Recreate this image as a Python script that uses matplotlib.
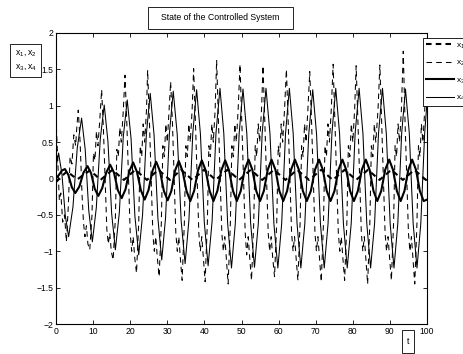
import matplotlib
matplotlib.use("Agg")
import matplotlib.pyplot as plt
from matplotlib.patches import Rectangle

plt.rcParams['font.family'] = ['Liberation Sans', 'DejaVu Sans']
plt.rcParams['lines.scale_dashes'] = False

# ---------------- data ----------------
x1_t = [0, 1.5, 3.0, 4.4, 5.8, 7.45, 9.1, 10.55, 12.0, 13.6, 15.2, 16.75, 18.3, 19.85, 21.4,
        22.95, 24.5, 26.05, 27.6, 29.15, 30.7, 32.2, 33.7, 35.25, 36.8, 38.35, 39.9, 41.5,
        43.05, 44.6, 46.2, 47.8, 49.35, 50.9, 52.5, 54.05, 55.6, 57.15, 58.7, 60.3, 61.85,
        63.4, 65.0, 66.6, 68.2, 69.85, 71.5, 73.05, 74.6, 76.2, 77.8, 79.35, 80.9, 82.5, 84.1,
        85.65, 87.2, 88.8, 90.4, 91.95, 93.5, 95.05, 96.6, 98.15, 99.7, 100]
x1_y = [-0.05, 0.03, 0.10, 0.04, -0.01, 0.05, 0.11, 0.05, -0.02, 0.05, 0.12, 0.05, -0.02,
        0.05, 0.12, 0.05, -0.02, 0.05, 0.12, 0.05, -0.02, 0.05, 0.12, 0.05, -0.02, 0.05, 0.12,
        0.05, -0.02, 0.05, 0.12, 0.05, -0.02, 0.05, 0.12, 0.05, -0.02, 0.05, 0.12, 0.05, -0.02,
        0.05, 0.12, 0.05, -0.02, 0.05, 0.12, 0.05, -0.02, 0.05, 0.12, 0.05, -0.02, 0.05, 0.12,
        0.05, -0.02, 0.05, 0.12, 0.05, -0.02, 0.05, 0.12, 0.05, -0.02, -0.01]

x2_t = [0, 0.5, 0.9, 1.3, 1.8, 2.3, 2.8, 3.3, 3.8, 4.3, 4.8, 5.3, 5.6,
        6.0, 6.5, 7.0, 7.4, 7.8, 8.2, 8.6, 9.1, 9.7, 10.1, 10.5, 10.9, 11.3, 11.8,
        12.3, 12.8, 13.3, 13.7, 14.1, 14.5, 14.9, 15.4, 16.0, 16.4, 16.8, 17.2, 17.6, 18.1,
        18.6, 19.1, 19.6, 20.0, 20.4, 20.8, 21.2, 21.7, 22.3, 22.7, 23.1, 23.5, 23.9, 24.4,
        24.7, 25.2, 25.7, 26.1, 26.5, 26.9, 27.3, 27.8, 28.4, 28.8, 29.2, 29.6, 30.0, 30.5,
        30.9, 31.4, 31.9, 32.3, 32.7, 33.1, 33.5, 34.0, 34.6, 35.0, 35.4, 35.8, 36.2, 36.7,
        37.1, 37.6, 38.1, 38.5, 38.9, 39.3, 39.7, 40.2, 40.8, 41.2, 41.6, 42.0, 42.4, 42.9,
        43.3, 43.8, 44.3, 44.7, 45.1, 45.5, 45.9, 46.4, 47.0, 47.4, 47.8, 48.2, 48.6, 49.1,
        49.6, 50.1, 50.6, 51.0, 51.4, 51.8, 52.2, 52.7, 53.3, 53.7, 54.1, 54.5, 54.9, 55.4,
        55.8, 56.3, 56.8, 57.2, 57.6, 58.0, 58.4, 58.9, 59.5, 59.9, 60.3, 60.7, 61.1, 61.6,
        62.1, 62.6, 63.1, 63.5, 63.9, 64.3, 64.7, 65.2, 65.8, 66.2, 66.6, 67.0, 67.4, 67.9,
        68.4, 68.9, 69.4, 69.8, 70.2, 70.6, 71.0, 71.5, 72.1, 72.5, 72.9, 73.3, 73.7, 74.2,
        74.7, 75.2, 75.7, 76.1, 76.5, 76.9, 77.3, 77.8, 78.4, 78.8, 79.2, 79.6, 80.0, 80.5,
        80.9, 81.4, 81.9, 82.3, 82.7, 83.1, 83.5, 84.0, 84.6, 85.0, 85.4, 85.8, 86.2, 86.8,
        87.3, 87.8, 88.3, 88.7, 89.1, 89.5, 89.9, 90.4, 91.0, 91.4, 91.8, 92.2, 92.6, 93.1,
        93.6, 94.1, 94.6, 95.0, 95.4, 95.8, 96.2, 96.7, 97.3, 97.7, 98.1, 98.5, 98.9, 99.4,
        100.0]
x2_y = [0.85, 0.2, -0.3, -0.2, -0.6, -0.5, -0.87, -0.4, 0.3, 0.2, 0.6, 0.45, 0.7,
        0.94, 0.5, -0.2, -0.6, -0.8, -0.65, -0.9, -0.98, -0.5, 0.35, 0.25, 0.65, 0.45, 0.8,
        1.22, 0.65, -0.1, -0.7, -0.9, -0.75, -1.0, -1.12, -0.55, 0.4, 0.3, 0.7, 0.5, 0.9,
        1.42, 0.75, -0.1, -0.75, -1.0, -0.8, -1.08, -1.30, -0.6, 0.45, 0.3, 0.75, 0.5, 0.95,
        1.49, 0.75, -0.1, -0.75, -1.0, -0.8, -1.08, -1.35, -0.6, 0.45, 0.3, 0.75, 0.5, 0.95,
        1.33, 0.75, -0.1, -0.75, -1.0, -0.8, -1.08, -1.40, -0.6, 0.45, 0.3, 0.75, 0.5, 0.95,
        1.51, 0.75, -0.1, -0.75, -1.0, -0.8, -1.08, -1.42, -0.6, 0.45, 0.3, 0.75, 0.5, 0.95,
        1.63, 0.75, -0.1, -0.75, -1.0, -0.8, -1.08, -1.45, -0.6, 0.45, 0.3, 0.75, 0.5, 0.95,
        1.57, 0.75, -0.1, -0.75, -1.05, -0.8, -1.08, -1.40, -0.6, 0.45, 0.3, 0.75, 0.5, 0.95,
        1.55, 0.75, -0.1, -0.75, -1.0, -0.8, -1.08, -1.35, -0.6, 0.45, 0.3, 0.75, 0.5, 0.95,
        1.50, 0.75, -0.1, -0.75, -1.0, -0.8, -1.08, -1.40, -0.6, 0.45, 0.3, 0.75, 0.5, 0.95,
        1.47, 0.75, -0.1, -0.75, -1.0, -0.8, -1.08, -1.42, -0.6, 0.45, 0.3, 0.75, 0.5, 0.95,
        1.57, 0.75, -0.1, -0.75, -1.0, -0.8, -1.08, -1.40, -0.6, 0.45, 0.3, 0.75, 0.5, 0.95,
        1.55, 0.75, -0.1, -0.75, -1.0, -0.8, -1.08, -1.45, -0.6, 0.45, 0.3, 0.75, 0.5, 0.95,
        1.56, 0.75, -0.1, -0.75, -1.0, -0.8, -1.08, -1.40, -0.6, 0.45, 0.3, 0.75, 0.5, 0.95,
        1.75, 0.75, -0.1, -0.75, -1.0, -0.8, -1.08, -1.45, -0.6, 0.45, 0.3, 0.75, 0.5, 0.95,
        1.5]

x3_t = [0, 0.8, 1.6, 2.4, 3.33, 4.27, 5.2, 6.3, 7.4, 8.5, 9.47, 10.43, 11.4, 12.47, 13.53,
        14.6, 15.63, 16.67, 17.7, 18.73, 19.77, 20.8, 21.83, 22.87, 23.9, 24.93, 25.97, 27.0,
        28.03, 29.07, 30.1, 31.1, 32.1, 33.1, 34.13, 35.17, 36.2, 37.23, 38.27, 39.3, 40.35,
        41.4, 42.45, 43.5, 44.55, 45.6, 46.65, 47.7, 48.75, 49.8, 50.85, 51.9, 52.93, 53.97,
        55.0, 56.03, 57.07, 58.1, 59.15, 60.2, 61.25, 62.3, 63.35, 64.4, 65.47, 66.53, 67.6,
        68.7, 69.8, 70.9, 71.93, 72.97, 74.0, 75.07, 76.13, 77.2, 78.23, 79.27, 80.3, 81.37,
        82.43, 83.5, 84.53, 85.57, 86.6, 87.67, 88.73, 89.8, 90.83, 91.87, 92.9, 93.93, 94.97,
        96.0, 97.03, 98.07, 99.1, 100]
x3_y = [0.0, 0.05, 0.11, 0.13, 0.05, -0.12, -0.20, -0.11, 0.08, 0.17, 0.07, -0.14, -0.24,
        -0.13, 0.08, 0.19, 0.08, -0.16, -0.27, -0.15, 0.10, 0.22, 0.09, -0.16, -0.29, -0.16,
        0.10, 0.23, 0.10, -0.17, -0.30, -0.17, 0.11, 0.24, 0.10, -0.17, -0.31, -0.17, 0.11,
        0.25, 0.11, -0.17, -0.31, -0.17, 0.11, 0.25, 0.11, -0.17, -0.31, -0.17, 0.12, 0.26,
        0.12, -0.17, -0.31, -0.17, 0.12, 0.26, 0.12, -0.17, -0.31, -0.17, 0.12, 0.26, 0.12,
        -0.17, -0.31, -0.17, 0.12, 0.26, 0.12, -0.17, -0.31, -0.17, 0.12, 0.26, 0.12, -0.17,
        -0.31, -0.17, 0.12, 0.26, 0.12, -0.17, -0.31, -0.17, 0.12, 0.26, 0.12, -0.17, -0.31,
        -0.17, 0.12, 0.26, 0.12, -0.17, -0.31, -0.29]

x4_t = [0, 0.7,
        1.6, 2.5, 3.4, 4.57, 5.73, 6.9, 7.87, 8.83, 9.8, 10.87, 11.93, 13.0,
        14.0, 15.0, 16.0, 17.07, 18.13, 19.2, 20.23, 21.27, 22.3, 23.33, 24.37, 25.4,
        26.43, 27.47, 28.5, 29.53, 30.57, 31.6, 32.67, 33.73, 34.8, 35.83, 36.87, 37.9,
        38.93, 39.97, 41.0, 42.07, 43.13, 44.2, 45.23, 46.27, 47.3, 48.33, 49.37, 50.4,
        51.43, 52.47, 53.5, 54.53, 55.57, 56.6, 57.67, 58.73, 59.8, 60.83, 61.87, 62.9,
        63.93, 64.97, 66.0, 67.07, 68.13, 69.2, 70.23, 71.27, 72.3, 73.33, 74.37, 75.4,
        76.43, 77.47, 78.5, 79.57, 80.63, 81.7, 82.73, 83.77, 84.8, 85.87, 86.93, 88.0,
        89.03, 90.07, 91.1, 92.13, 93.17, 94.2, 95.23, 96.27, 97.3, 98.33, 99.37, 100]
x4_y = [0.15, 0.35,
        0.06, -0.51, -0.80, -0.39, 0.42, 0.83, 0.40, -0.44, -0.87, -0.40, 0.54, 1.01,
        0.51, -0.48, -0.98, -0.47, 0.57, 1.08, 0.55, -0.52, -1.05, -0.50, 0.62, 1.17,
        0.60, -0.55, -1.12, -0.54, 0.62, 1.20, 0.61, -0.58, -1.17, -0.57, 0.62, 1.22,
        0.61, -0.60, -1.20, -0.59, 0.63, 1.24, 0.62, -0.62, -1.23, -0.62, 0.62, 1.23,
        0.62, -0.62, -1.22, -0.62, 0.62, 1.24, 0.62, -0.62, -1.23, -0.62, 0.62, 1.24,
        0.62, -0.62, -1.23, -0.62, 0.61, 1.22, 0.61, -0.62, -1.23, -0.62, 0.62, 1.24,
        0.62, -0.62, -1.23, -0.62, 0.62, 1.24, 0.62, -0.62, -1.23, -0.62, 0.62, 1.24,
        0.62, -0.62, -1.23, -0.62, 0.62, 1.23, 0.62, -0.62, -1.23, -0.62, 0.62, 1.05]

series_labels = [r'$\mathregular{x_1}$', r'$\mathregular{x_2}$',
                 r'$\mathregular{x_3}$', r'$\mathregular{x_4}$']
x_ticks = [0, 10, 20, 30, 40, 50, 60, 70, 80, 90, 100]
x_tick_labels = ['0', '10', '20', '30', '40', '50', '60', '70', '80', '90', '100']
y_ticks = [-2, -1.5, -1, -0.5, 0, 0.5, 1, 1.5, 2]
y_tick_labels = ['\u22122', '\u22121.5', '\u22121', '\u22120.5', '0', '0.5', '1', '1.5', '2']
title_text = 'State of the Controlled System'
ylabel_lines = [r'$\mathregular{x_1,x_2}$', r'$\mathregular{x_3,x_4}$']
xlabel_text = 't'

# ---------------- figure ----------------
W, H = 463, 354
fig = plt.figure(figsize=(W / 100, H / 100), dpi=100)
ax = fig.add_axes([56 / W, 1 - 324 / H, (427 - 56) / W, (324 - 33) / H])

thick, thin = 1.5, 0.75
l1, = ax.plot(x1_t, x1_y, color='black', lw=thick, ls=(0, (4.0, 3.0)))
l2, = ax.plot(x2_t, x2_y, color='black', lw=thin, ls=(0, (4.0, 3.0)))
l3, = ax.plot(x3_t, x3_y, color='black', lw=thick, ls='-')
l4, = ax.plot(x4_t, x4_y, color='black', lw=thin, ls='-')

ax.set_xlim(0, 100)
ax.set_ylim(-2, 2)
ax.set_xticks(x_ticks)
ax.set_xticklabels(x_tick_labels)
ax.set_yticks(y_ticks)
ax.set_yticklabels(y_tick_labels)
ax.tick_params(direction='in', length=3, width=0.6, labelsize=6.2, pad=2,
               top=True, right=True)
for s in ax.spines.values():
    s.set_linewidth(0.8)


def fig_box(x0, y0, x1, y1):
    """Rectangle given in pixels from the top-left corner of the figure."""
    fig.add_artist(Rectangle((x0 / W, 1 - y1 / H), (x1 - x0) / W, (y1 - y0) / H,
                             transform=fig.transFigure, fc='white', ec='black', lw=0.6))


fig_box(148, 7, 293, 29)
fig.text(220.5 / W, 1 - 18 / H, title_text, ha='center', va='center', fontsize=6.3)

fig_box(10, 44, 41, 77)
fig.text(25.5 / W, 1 - 53 / H, ylabel_lines[0], ha='center', va='center', fontsize=6.3)
fig.text(25.5 / W, 1 - 67 / H, ylabel_lines[1], ha='center', va='center', fontsize=6.3)

fig_box(402, 330, 414, 353)
fig.text(408 / W, 1 - 341 / H, xlabel_text, ha='center', va='center', fontsize=6.3)

leg = fig.legend([l1, l2, l3, l4], series_labels, loc='upper left',
                 bbox_to_anchor=(423 / W, 1 - 38 / H), fontsize=6, handlelength=3.3,
                 labelspacing=1.0, handletextpad=0.3, borderpad=0.4, borderaxespad=0,
                 fancybox=False, framealpha=1)
leg.get_frame().set_edgecolor('black')
leg.get_frame().set_linewidth(0.6)

fig.savefig('out.png', dpi=100)
